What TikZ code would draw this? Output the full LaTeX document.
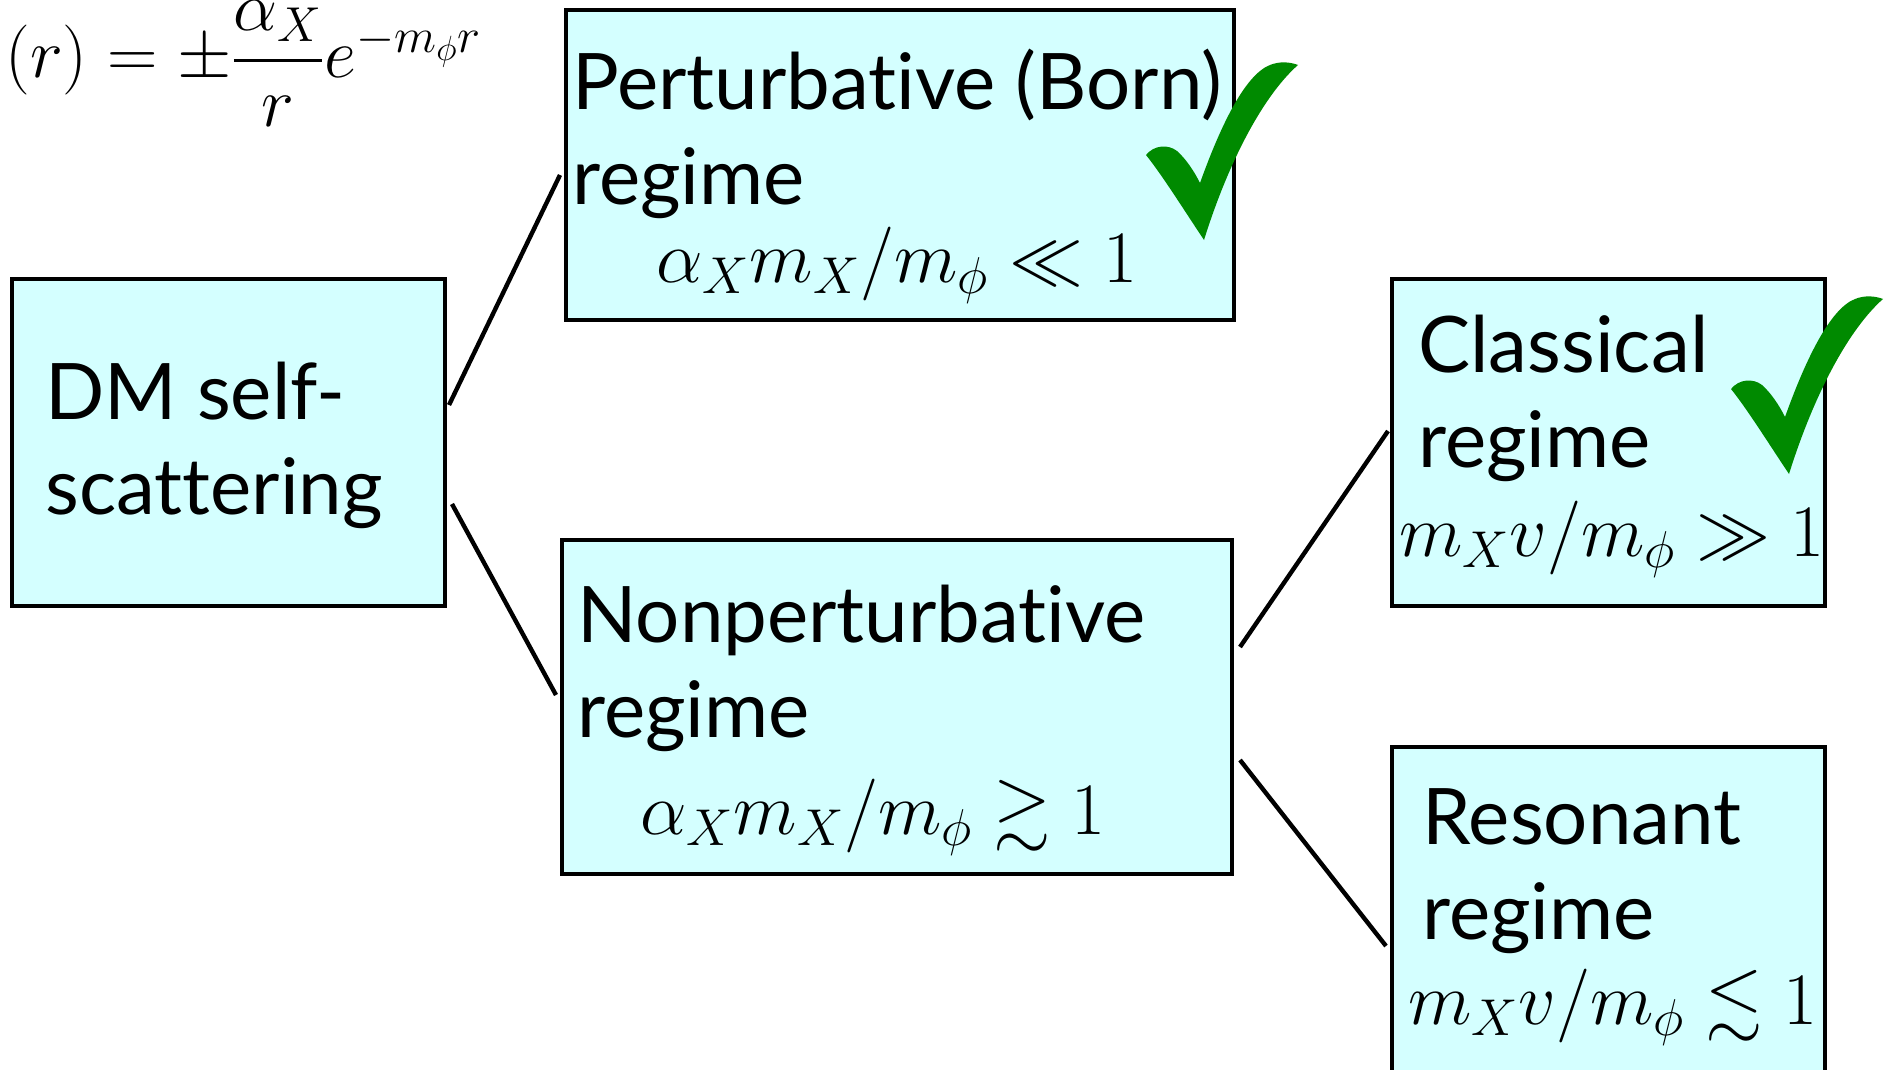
\RequirePackage{fix-cm}
\documentclass[tikz,border=0pt]{standalone}
\usepackage{amsmath,amssymb}
\usepackage{fontspec}
\setmainfont{Lato}[Ligatures={NoCommon}]
\usetikzlibrary{positioning, calc}
\definecolor{boxcyan}{HTML}{D4FFFF}
\definecolor{tickgreen}{HTML}{008A00}

\begin{document}
\begin{tikzpicture}[
    x=0.5pt, y=-0.5pt,
    regbox/.style={rectangle, draw=black, fill=boxcyan, line width=2pt, inner sep=0pt},
    title/.style={font=\fontsize{39}{47.5}\selectfont, align=left, inner sep=0pt, anchor=base west},
    cond/.style={font=\fontsize{37}{40}\selectfont, inner sep=0pt, anchor=base},
    link/.style={line width=2.2pt, black},
    tick/.pic={
      \fill[tickgreen] (0,0) .. controls (-22,-33) and (-42,-65) .. (-58,-85)
        .. controls (-50,-95) and (-36,-96) .. (-27,-89)
        .. controls (-18,-81) and (-10,-69) .. (-4,-57)
        .. controls (15,-110) and (40,-165) .. (66,-175)
        .. controls (76,-179) and (86,-178) .. (94,-175)
        .. controls (60,-145) and (25,-80) .. (0,0) -- cycle;
    },
  ]
  \useasboundingbox (0,0) rectangle (1895,1070);

  % potential
  \node[anchor=base west, inner sep=0pt, font=\fontsize{35}{40}\selectfont] (pot) at (5,78)
    {$(r) = \pm\dfrac{\alpha_X}{r}e^{-m_\phi r}$};

  % regime boxes
  \node[regbox, minimum width=216.5pt, minimum height=163.5pt] (dm) at (228.5,442.5) {};
  \node[regbox, minimum width=334pt, minimum height=155pt] (pert) at (900,165) {};
  \node[regbox, minimum width=335pt, minimum height=167pt] (nonpert) at (897,707) {};
  \node[regbox, minimum width=216.5pt, minimum height=163.5pt] (classic) at (1608.5,442.5) {};
  \node[regbox, minimum width=216.5pt, minimum height=180pt] (reson) at (1608.5,927) {};

  \node[title] (dmtxt) at (45,514) {DM self-\\scattering};
  \node[title] (perttxt) at (572,205) {Perturbative (Born)\\regime};
  \node[title] (nonperttxt) at (577,737) {Nonperturbative\\regime};
  \node[title] (classictxt) at (1418,467) {Classical\\regime};
  \node[title] (resontxt) at (1422,939) {Resonant\\regime};

  \node[cond] (pertcond) at (897,282) {$\alpha_X m_X/m_\phi \ll 1$};
  \node[cond] (nonpertcond) at (873,834) {$\alpha_X m_X/m_\phi \gtrsim 1$};
  \node[cond] (classiccond) at (1612,556) {$m_X v/m_\phi \gg 1$};
  \node[cond] (resoncond) at (1613,1024) {$m_X v/m_\phi \lesssim 1$};

  % branches
  \draw[link] ([xshift=1pt, yshift=18.75pt]dm.east) -- ([xshift=-2pt, yshift=-5pt]pert.west);
  \draw[link] ([xshift=2.5pt, yshift=-30.75pt]dm.east) -- ([xshift=-2pt, yshift=6pt]nonpert.west);
  \draw[link] ([xshift=3pt, yshift=30pt]nonpert.east) -- ([xshift=-1pt, yshift=5.75pt]classic.west);
  \draw[link] ([xshift=3pt, yshift=-26.5pt]nonpert.east) -- ([xshift=-2pt, yshift=-9.5pt]reson.west);

  % checks
  \pic at (1204,240) {tick};
  \pic at (1789,474) {tick};
\end{tikzpicture}
\end{document}
